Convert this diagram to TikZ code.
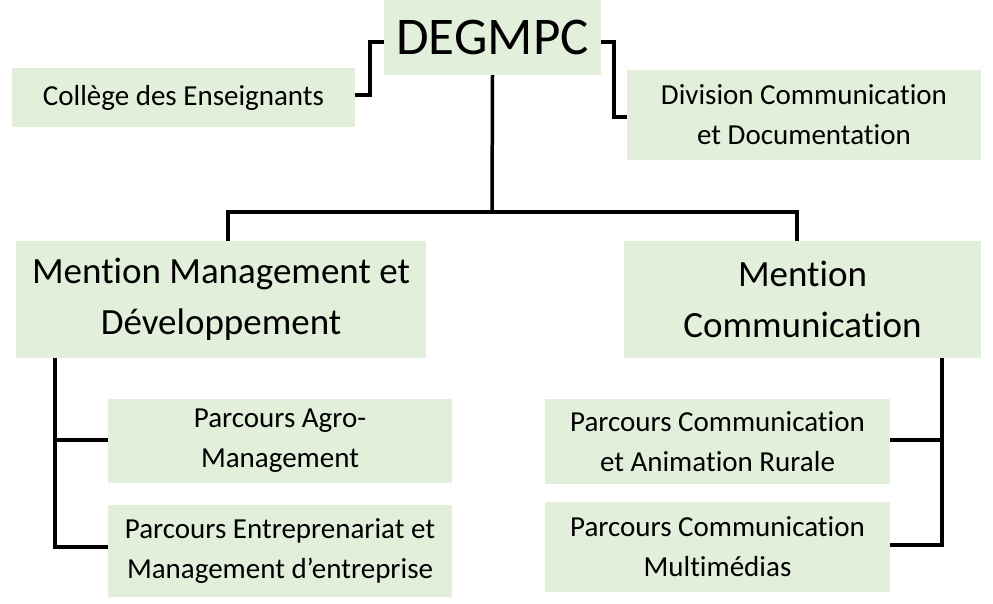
\documentclass[tikz,border=0pt]{standalone}
\usepackage{fontspec}
\setmainfont[Ligatures=NoCommon]{Carlito}
\usetikzlibrary{positioning}
\definecolor{boxgreen}{HTML}{E2EFDA}

\begin{document}
\begin{tikzpicture}[x=1pt,y=-1pt]
\tikzset{orgbox/.style={fill=boxgreen,inner sep=0pt,align=center,font=\fontsize{29}{40}\selectfont},
         link/.style={line width=3.5pt}}
\useasboundingbox (0,0) rectangle (993,604);
\node[orgbox,minimum width=217pt,minimum height=75pt,font=\fontsize{53}{56}\selectfont] (top) at (492.5,37.5) {DEGMPC};
\node[orgbox,minimum width=343pt,minimum height=59pt] (college) at (183.5,97.5) {Collège des Enseignants};
\node[orgbox,minimum width=354pt,minimum height=90pt] (division) at (804,115) {Division Communication\\et Documentation};
\node[orgbox,minimum width=410pt,minimum height=117pt,font=\fontsize{37}{51}\selectfont] (mgmt) at (221,299.5) {Mention Management et\\Développement};
\node[orgbox,minimum width=357pt,minimum height=117pt,font=\fontsize{37}{51}\selectfont] (comm) at (802.5,299.5) {Mention\\Communication};
\node[orgbox,minimum width=344pt,minimum height=84pt] (agro) at (280,441) {Parcours Agro-\\Management};
\node[orgbox,minimum width=344pt,minimum height=92pt] (entre) at (280,551) {Parcours Entreprenariat et\\Management d’entreprise};
\node[orgbox,minimum width=345pt,minimum height=85pt] (anim) at (717.5,441.5) {Parcours Communication\\et Animation Rurale};
\node[orgbox,minimum width=345pt,minimum height=90pt] (multi) at (717.5,547) {Parcours Communication\\Multimédias};

% connectors
\draw[link] (top.west |- 0,42) -| (370,95) -- (college.east |- 0,95);
\draw[link] (top.east |- 0,42) -| (614,117) -- (division.west |- 0,117);
\coordinate (split) at (492,212);
\draw[link] (top.south) -- (split);
\draw[link] (mgmt.north -| 228,0) |- (split) -| (comm.north -| 797,0);
\draw[link] (mgmt.south -| 55,0) |- (entre.west |- 0,547);
\draw[link] (55,440) -- (agro.west |- 0,440);
\draw[link] (comm.south -| 942,0) |- (multi.east |- 0,545);
\draw[link] (942,440) -- (anim.east |- 0,440);
\end{tikzpicture}
\end{document}
